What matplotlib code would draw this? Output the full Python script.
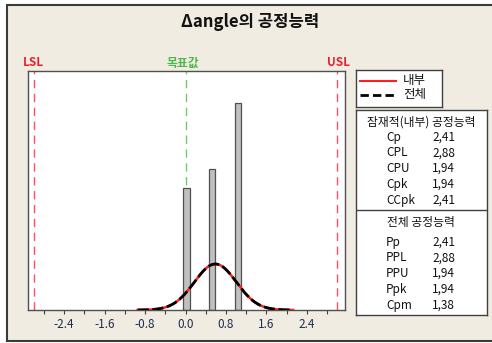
import numpy as np
import matplotlib.pyplot as plt
from matplotlib.patches import Rectangle

plt.rcParams['font.family'] = ['Noto Sans CJK KR', 'DejaVu Sans']

W, H = 492, 343

# spec limits, target and fitted normal
LSL, USL, target = -3.0, 3.0, 0.0
mean, sigma = 0.59, 0.415

# histogram bars (density scale)
bar_x = [0.02, 0.52, 1.03]
bar_h = [2.55, 2.95, 4.33]
bar_w = 0.12

xticks = [-2.4, -1.6, -0.8, 0.0, 0.8, 1.6, 2.4]
xtick_labels = ['-2.4', '-1.6', '-0.8', '0.0', '0.8', '1.6', '2.4']

within_names = ['Cp', 'CPL', 'CPU', 'Cpk', 'CCpk']
within_vals = ['2,41', '2,88', '1,94', '1,94', '2,41']
overall_names = ['Pp', 'PPL', 'PPU', 'Ppk', 'Cpm']
overall_vals = ['2,41', '2,88', '1,94', '1,94', '1,38']

fig = plt.figure(figsize=(W / 100, H / 100), dpi=100, facecolor='white')


def px_axes(x0, y0, x1, y1, **kw):
    return fig.add_axes([x0 / W, 1 - y1 / H, (x1 - x0) / W, (y1 - y0) / H], **kw)


# background panel
bg = px_axes(0, 0, W, H)
bg.set_xlim(0, W)
bg.set_ylim(H, 0)
bg.axis('off')
bg.add_patch(Rectangle((7, 5), 520, 336, fc='#F0ECE2', ec='#3a3a3a', lw=1.5))
bg.text(250, 22, 'Δangle의 공정능력', ha='center', va='center',
        fontsize=12, fontweight='bold', color='#111111')
bg.text(33, 63, 'LSL', ha='center', va='center', fontsize=8.5,
        fontweight='bold', color='#E8202E')
bg.text(183, 63, '목표값', ha='center', va='center', fontsize=8.5,
        fontweight='bold', color='#4CB84C')
bg.text(338, 63, 'USL', ha='center', va='center', fontsize=8.5,
        fontweight='bold', color='#E8202E')

# main plot
ax = px_axes(28, 70.7, 345, 310)
ax.set_facecolor('white')
ax.set_xlim(-3.113, 3.152)
ax.set_ylim(0, 5.0)
ax.axvline(target, color='#6CCB6C', lw=1, ls=(0, (6, 4)), zorder=1)
ax.bar(bar_x, bar_h, width=bar_w, color='#C0C0C0', edgecolor='#505050',
       lw=0.9, zorder=2)
xs = np.linspace(mean - 3.7 * sigma, mean + 3.7 * sigma, 300)
ys = np.exp(-0.5 * ((xs - mean) / sigma) ** 2) / (sigma * np.sqrt(2 * np.pi))
ax.plot(xs, ys, color='#FF2020', lw=1.8, zorder=3)
ax.plot(xs, ys, color='black', lw=2.0, ls=(0, (4, 1.3)), zorder=4)
ax.axvline(LSL, color='#FF5060', lw=1, ls=(0, (6, 4)), zorder=1)
ax.axvline(USL, color='#FF5060', lw=1, ls=(0, (6, 4)), zorder=1)

ax.set_yticks([])
ax.set_xticks(xticks)
ax.set_xticklabels(xtick_labels, fontweight='medium')
ax.set_xticks(np.arange(-2.8, 2.9, 0.4), minor=True)
ax.tick_params(axis='x', which='both', direction='out', length=3,
               width=0.8, color='#404040', pad=3, labelsize=8.5,
               labelcolor='#1F2D4F')
for s in ax.spines.values():
    s.set_color('#505050')
    s.set_linewidth(1)

# legend box
lg = px_axes(355.7, 70, 442, 107)
lg.set_xlim(355.7, 442)
lg.set_ylim(107, 70)
lg.set_xticks([])
lg.set_yticks([])
for s in lg.spines.values():
    s.set_color('#404040')
    s.set_linewidth(1)
lg.plot([360, 396], [80.5, 80.5], color='#FF2020', lw=1.5)
lg.plot([360, 396], [94.5, 94.5], color='black', lw=2, ls=(0, (3, 1.5)))
lg.text(403, 80.5, '내부', va='center', fontsize=9, fontweight='medium',
        color='#111111')
lg.text(403, 94.5, '전체', va='center', fontsize=9, fontweight='medium',
        color='#111111')

# statistics box
st = px_axes(355.7, 110, 486.7, 315)
st.set_xlim(355.7, 486.7)
st.set_ylim(315, 110)
st.set_xticks([])
st.set_yticks([])
for s in st.spines.values():
    s.set_color('#404040')
    s.set_linewidth(1)
st.axhline(210, color='#404040', lw=1)
txt = dict(va='center', fontsize=8.5, fontweight='medium', color='#111111')
st.text(421, 122, '잠재적(내부) 공정능력', ha='center', **txt)
st.text(421, 222, '전체 공정능력', ha='center', **txt)
for i, (n, v) in enumerate(zip(within_names, within_vals)):
    y = 137 + i * 15.8
    st.text(386, y, n, **txt)
    st.text(432, y, v, **txt)
for i, (n, v) in enumerate(zip(overall_names, overall_vals)):
    y = 242 + i * 15.8
    st.text(386, y, n, **txt)
    st.text(432, y, v, **txt)

fig.savefig('out.png', dpi=100, facecolor='white')
